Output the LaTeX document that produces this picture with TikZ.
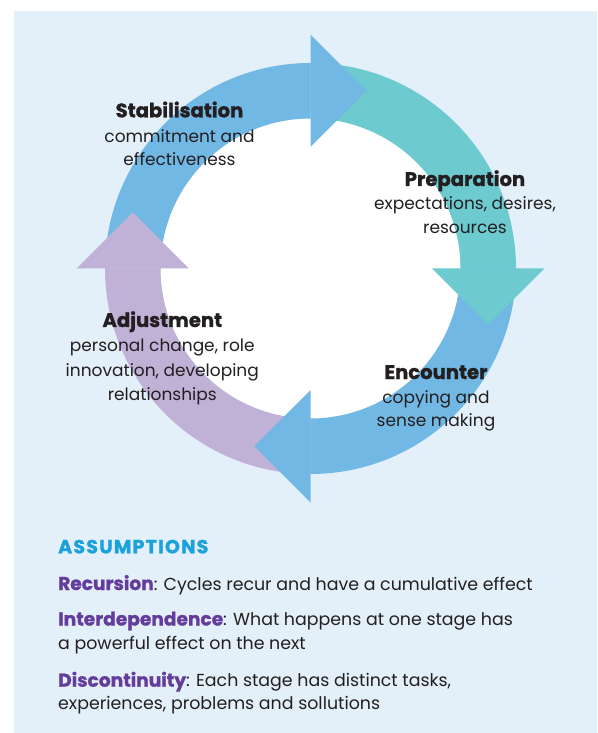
\documentclass[tikz,border=0pt]{standalone}
\usepackage{fontspec}
\setmainfont{Poppins}[BoldFeatures={FakeBold=1.2}]
\definecolor{panel}{HTML}{E3F0F9}
\definecolor{ringblue}{HTML}{72B8E4}
\definecolor{ringteal}{HTML}{6DCACF}
\definecolor{ringlilac}{HTML}{C0B1D7}
\definecolor{ink}{HTML}{231F20}
\definecolor{headcyan}{HTML}{1BA1DB}
\definecolor{keyviolet}{HTML}{643C9C}
\newcommand{\keyword}[1]{{\fontsize{18.6}{20}\selectfont\bfseries\color{keyviolet}#1}}
\begin{document}
\begin{tikzpicture}[x=1pt,y=1pt,
  lbl/.style={anchor=base,inner sep=0pt,text=ink,font=\fontsize{17}{20}\selectfont},
  ttl/.style={lbl,font=\fontsize{19.6}{22}\selectfont\bfseries},
  note/.style={anchor=base west,inner sep=0pt,text=ink,font=\fontsize{17.4}{20}\selectfont}]
% origin = centre of the cycle
\useasboundingbox (-310.5,268.5) rectangle (286.5,-464.5);
\fill[panel] (-296.5,257.5) rectangle (286.5,-464.5);
\fill[white] (0,0) circle[radius=150];
% arrow bodies (quarter rings)
\fill[ringblue]  (90:205.5)  arc[start angle=90, end angle=180,radius=205.5] -- (180:150) arc[start angle=180,end angle=90, radius=150] -- cycle;
\fill[ringteal]  (0:205.5)   arc[start angle=0,  end angle=90, radius=205.5] -- (90:150)  arc[start angle=90, end angle=0,  radius=150] -- cycle;
\fill[ringblue]  (270:205.5) arc[start angle=270,end angle=360,radius=205.5] -- (0:150)   arc[start angle=360,end angle=270,radius=150] -- cycle;
\fill[ringlilac] (180:205.5) arc[start angle=180,end angle=270,radius=205.5] -- (270:150) arc[start angle=270,end angle=180,radius=150] -- cycle;
% arrow heads
\fill[ringblue]  (0,234) -- (56,177.75) -- (0,121.5) -- cycle;
\fill[ringteal]  (234,0) -- (177.75,-56) -- (121.5,0) -- cycle;
\fill[ringblue]  (0,-234) -- (-56,-177.75) -- (0,-121.5) -- cycle;
\fill[ringlilac] (-234,0) -- (-177.75,56) -- (-121.5,0) -- cycle;
% stage labels
\node[ttl] (stabT) at (-131,151.2) {Stabilisation};
\node[lbl] (stabA) at (-131,126.2) {commitment and};
\node[lbl] (stabB) at (-131,103)   {effectiveness};
\node[ttl] (prepT) at (154.5,82.5) {Preparation};
\node[lbl] (prepA) at (154.5,58.5) {expectations, desires,};
\node[lbl] (prepB) at (154.5,35)   {resources};
\node[ttl] (encT)  at (125.5,-110.5) {Encounter};
\node[lbl] (encA)  at (125.5,-134.5) {copying and};
\node[lbl] (encB)  at (125.5,-158)   {sense making};
\node[ttl] (adjT)  at (-148.2,-58.5) {Adjustment};
\node[lbl] (adjA)  at (-148.2,-83)   {personal change, role};
\node[lbl] (adjB)  at (-148.2,-107.5){innovation, developing};
\node[lbl] (adjC)  at (-148.2,-131.5){relationships};
% assumptions
\node[note,text=headcyan,font=\fontsize{19}{20}\selectfont\bfseries\addfontfeature{LetterSpace=6.5}] (asmT) at (-252.5,-284.8) {ASSUMPTIONS};
\node[note] (asmA) at (-252.5,-321.5) {\keyword{Recursion}: Cycles recur and have a cumulative effect};
\node[note] (asmB) at (-252.5,-357)   {\keyword{Interdependence}: What happens at one stage has};
\node[note] (asmC) at (-252.5,-380.8) {a powerful effect on the next};
\node[note] (asmD) at (-252.5,-418.2) {\keyword{Discontinuity}: Each stage has distinct tasks,};
\node[note] (asmE) at (-252.5,-440.8) {experiences, problems and sollutions};
\end{tikzpicture}
\end{document}
